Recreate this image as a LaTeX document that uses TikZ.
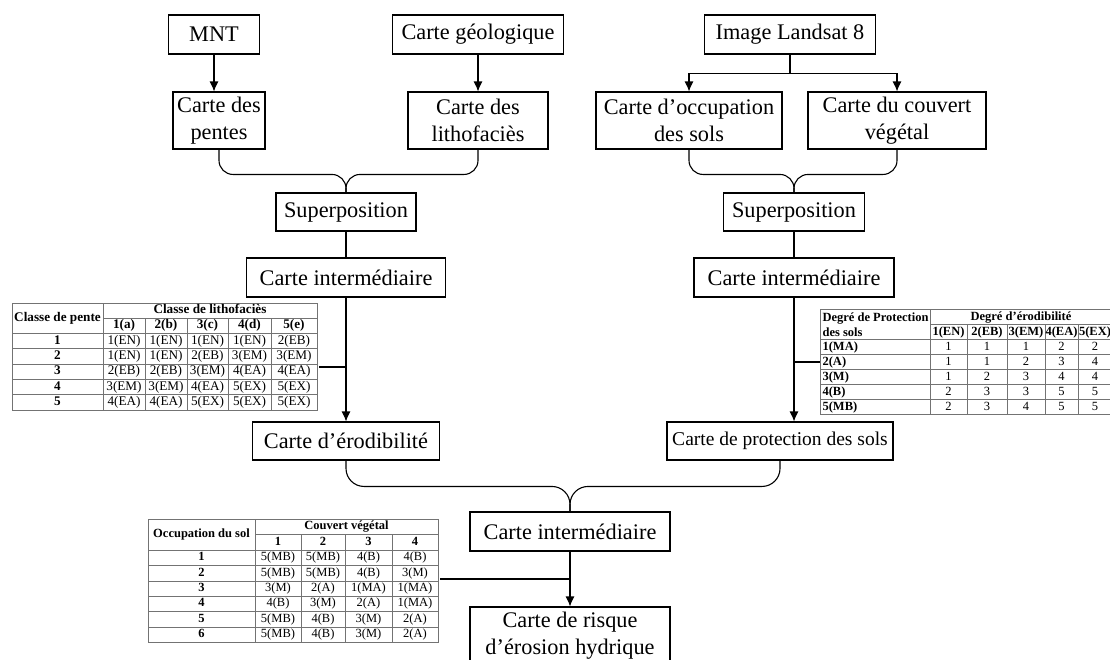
\documentclass[tikz,border=0pt]{standalone}
\usepackage{fontspec}
\setmainfont{Liberation Serif}
\usetikzlibrary{arrows.meta,calc}

\begin{document}
\begin{tikzpicture}[x=1pt,y=1pt,
        >={Latex[length=10pt,width=9pt]},
        line width=1.1pt,
        box/.style={draw, inner sep=0pt, align=center, font=\fontsize{22.3}{27}\selectfont},
        tabline/.style={draw=black!55, line width=0.6pt},
        tabhead/.style={inner sep=0pt, text height=9pt, text depth=3pt, font=\fontsize{12.5}{15}\selectfont\bfseries},
        tabcell/.style={inner sep=0pt, text height=9pt, text depth=3pt, font=\fontsize{12.5}{15}\selectfont},
        bighead/.style={tabhead, font=\fontsize{13.2}{15}\selectfont\bfseries},
        bigcell/.style={tabcell, font=\fontsize{13.2}{15}\selectfont}]
    \useasboundingbox (0,0) rectangle (1110,-659);
    \clip (0,0) rectangle (1110,-659);

    % sources
    \node[box, minimum width=91, minimum height=39] (mnt) at (214,-34.5) {MNT};
    \node[box, minimum width=171, minimum height=39] (geol) at (478,-34.5) {Carte géologique};
    \node[box, minimum width=171, minimum height=39] (landsat) at (790,-34.5) {Image Landsat 8};
    \node[box, minimum width=92, minimum height=57] (pentes) at (219,-120.5) {Carte des\\pentes};
    \node[box, minimum width=140, minimum height=57] (litho) at (478,-120.5) {Carte des\\lithofaciès};
    \node[box, minimum width=186, minimum height=57] (occup) at (689,-120.5) {Carte d’occupation\\des sols};
    \node[box, minimum width=178, minimum height=57] (couvert) at (897,-120.5) {Carte du couvert\\végétal};

    % overlays
    \node[box, minimum width=140, minimum height=38] (sup1) at (346,-212) {Superposition};
    \node[box, minimum width=141, minimum height=38] (sup2) at (794,-212) {Superposition};
    \node[box, minimum width=199, minimum height=39] (ci1) at (346,-277.5) {Carte intermédiaire};
    \node[box, minimum width=200, minimum height=39] (ci2) at (794,-277.5) {Carte intermédiaire};
    \node[box, minimum width=187, minimum height=38] (erod) at (346,-441) {Carte d’érodibilité};
    \node[box, minimum width=226, minimum height=38, font=\fontsize{19.5}{24}\selectfont] (cps) at (780,-441) {Carte de protection des sols};
    \node[box, minimum width=200, minimum height=39] (ci3) at (570,-531.5) {Carte intermédiaire};
    \node[box, minimum width=200, minimum height=57] (risk) at (570,-635.5) {Carte de risque\\d’érosion hydrique};

    \draw[->] (mnt.south) -- (mnt.south |- pentes.north);
    \draw[->] (geol.south) -- (geol.south |- litho.north);
    \draw (landsat.south) -- ++(0,-19) coordinate (split);
    \draw[->] (split) -| (occup.north);
    \draw[->] (split) -| (couvert.north);

    \draw[rounded corners=14] (pentes.south) |- ($(sup1.north)+(0,18)$) -- (sup1.north);
    \draw[rounded corners=14] (litho.south) |- ($(sup1.north)+(0,18)$) -- (sup1.north);
    \draw[rounded corners=14] (occup.south) |- ($(sup2.north)+(0,18)$) -- (sup2.north);
    \draw[rounded corners=14] (couvert.south) |- ($(sup2.north)+(0,18)$) -- (sup2.north);
    \draw[rounded corners=18] (erod.south) |- ($(ci3.north)+(0,25)$) -- (ci3.north);
    \draw[rounded corners=18] (cps.south) |- ($(ci3.north)+(0,25)$) -- (ci3.north);

    \draw (sup1.south) -- (sup1.south |- ci1.north);
    \draw (sup2.south) -- (sup2.south |- ci2.north);
    \draw[->] (ci1.south) -- (ci1.south |- erod.north);
    \draw[->] (ci2.south) -- (ci2.south |- cps.north);
    \draw[->] (ci3.south) -- (ci3.south |- risk.north);

    % table 1 : pente x lithofacies
    \fill[white] (12,-303) rectangle (317,-410);
    \draw[tabline] (12,-303) rectangle (317,-410);
    \draw[tabline] (103,-318) -- (317,-318);
    \foreach \y in {333,348.4,363.8,379.2,394.6} \draw[tabline] (12,-\y) -- (317,-\y);
    \draw[tabline] (103,-303) -- (103,-410);
    \foreach \x in {145,187,228,271} \draw[tabline] (\x,-318) -- (\x,-410);
    \node[bighead] (t1corner) at (57.5,-318) {Classe de pente};
    \node[bighead] (t1top) at (210,-310.5) {Classe de lithofaciès};
    \foreach \h/\x [count=\j] in {1(a)/124,2(b)/166,3(c)/207.5,4(d)/249.5,5(e)/294}
        \node[bighead] (t1h\j) at (\x,-325.5) {\h};
    \foreach \lab/\va/\vb/\vc/\vd/\ve [count=\i] in {
            1/1(EN)/1(EN)/1(EN)/1(EN)/2(EB),
            2/1(EN)/1(EN)/2(EB)/3(EM)/3(EM),
            3/2(EB)/2(EB)/3(EM)/4(EA)/4(EA),
            4/3(EM)/3(EM)/4(EA)/5(EX)/5(EX),
            5/4(EA)/4(EA)/5(EX)/5(EX)/5(EX)} {
        \node[bighead] (t1r\i) at (57.5,{-325.7-15.4*\i}) {\lab};
        \foreach \v/\x [count=\j] in {\va/124,\vb/166,\vc/207.5,\vd/249.5,\ve/294}
            \node[bigcell] (t1c\i\j) at (\x,{-325.7-15.4*\i}) {\v};
    }
    \coordinate (j1) at (319,-367);
    \draw (j1) -- (j1 -| ci1.south);

    % table 2 : protection x erodibilite
    \fill[white] (820,-309.5) rectangle (1112,-414.5);
    \draw[tabline] (820,-309.5) rectangle (1112,-414.5);
    \draw[tabline] (930,-324.5) -- (1112,-324.5);
    \foreach \y in {339.5,354.5,369.5,384.5,399.5} \draw[tabline] (820,-\y) -- (1112,-\y);
    \draw[tabline] (930,-309.5) -- (930,-414.5);
    \foreach \x in {967,1007,1045,1078} \draw[tabline] (\x,-324.5) -- (\x,-414.5);
    \node[tabhead, text height=, text depth=, align=left, anchor=west] (t2corner) at (822,-324.5) {Degré de Protection\\des sols};
    \node[tabhead] (t2top) at (1021,-317) {Degré d’érodibilité};
    \foreach \h/\x [count=\j] in {1(EN)/948.5,2(EB)/987,3(EM)/1026,4(EA)/1061.5,5(EX)/1095}
        \node[tabhead] (t2h\j) at (\x,-332) {\h};
    \foreach \lab/\va/\vb/\vc/\vd/\ve [count=\i] in {
            1(MA)/1/1/1/2/2,
            2(A)/1/1/2/3/4,
            3(M)/1/2/3/4/4,
            4(B)/2/3/3/5/5,
            5(MB)/2/3/4/5/5} {
        \node[tabhead, anchor=west] (t2r\i) at (822,{-332-15*\i}) {\lab};
        \foreach \v/\x [count=\j] in {\va/948.5,\vb/987,\vc/1026,\vd/1061.5,\ve/1095}
            \node[tabcell] (t2c\i\j) at (\x,{-332-15*\i}) {\v};
    }
    \coordinate (j2) at (820,-362);
    \draw (j2) -- (j2 -| ci2.south);

    % table 3 : occupation x couvert
    \fill[white] (148,-519) rectangle (438,-642.4);
    \draw[tabline] (148,-519) rectangle (438,-642.4);
    \draw[tabline] (255,-534.5) -- (438,-534.5);
    \foreach \y in {550,565.4,580.8,596.2,611.6,627} \draw[tabline] (148,-\y) -- (438,-\y);
    \draw[tabline] (255,-519) -- (255,-642.4);
    \foreach \x in {301,345,392} \draw[tabline] (\x,-534.5) -- (\x,-642.4);
    \node[tabhead] (t3corner) at (201.5,-534.5) {Occupation du sol};
    \node[tabhead] (t3top) at (346.5,-526.7) {Couvert végétal};
    \foreach \h/\x [count=\j] in {1/278,2/323,3/368.5,4/415}
        \node[tabhead] (t3h\j) at (\x,-542.2) {\h};
    \foreach \lab/\va/\vb/\vc/\vd [count=\i] in {
            1/5(MB)/5(MB)/4(B)/4(B),
            2/5(MB)/5(MB)/4(B)/3(M),
            3/3(M)/2(A)/1(MA)/1(MA),
            4/4(B)/3(M)/2(A)/1(MA),
            5/5(MB)/4(B)/3(M)/2(A),
            6/5(MB)/4(B)/3(M)/2(A)} {
        \node[tabhead] (t3r\i) at (201.5,{-542.3-15.4*\i}) {\lab};
        \foreach \v/\x [count=\j] in {\va/278,\vb/323,\vc/368.5,\vd/415}
            \node[tabcell] (t3c\i\j) at (\x,{-542.3-15.4*\i}) {\v};
    }
    \coordinate (j3) at (440,-579);
    \draw (j3) -- (j3 -| ci3.south);
\end{tikzpicture}
\end{document}
